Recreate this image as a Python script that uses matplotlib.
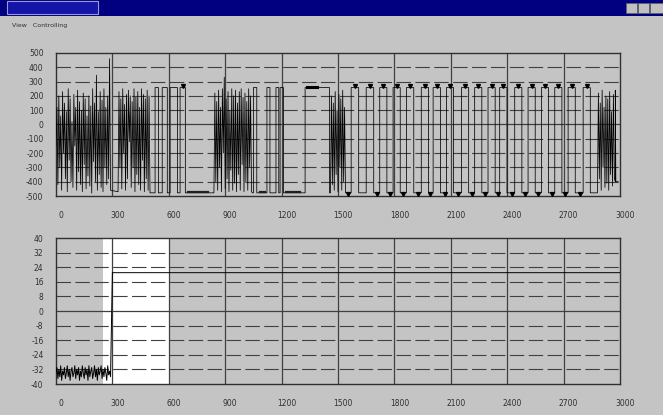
import numpy as np
import matplotlib
matplotlib.use("Agg")
import matplotlib.pyplot as plt
from matplotlib.patches import Rectangle
from matplotlib.transforms import ScaledTranslation

# ---------------- data ----------------
x_ticks = [0, 300, 600, 900, 1200, 1500, 1800, 2100, 2400, 2700, 3000]
top_yticks = [500, 400, 300, 200, 100, 0, -100, -200, -300, -400, -500]
bot_yticks = [40, 32, 24, 16, 8, 0, -8, -16, -24, -32, -40]

HIGH = 258
LOW = -478

# dense bursts (start x, step, values)
burst1_start, burst1_step = 0, 5
burst1_vals = [-150, 120, -420, 200, -300, 60, -460, 230, -200, 150, -380, 90, -470, 250,
               -250, 180, -400, 20, -440, 210, -150, 120, -460, 240, -330, 160, -420, 100,
               -470, 220, -280, 180, -450, 60, -360, 200, -430, 130, -480, 250, -260, 150,
               -400, 345, -460, 90, -350, 230, -440, 170, -470, 250, -300, 120, -420, 200,
               -380, 460, -460]
burst2_start, burst2_step = 330, 5
burst2_vals = [-470, 230, -300, 180, -450, 250, -200, 140, -460, 210, -380, 240, -120, 200,
               -440, 160, -300, 250, -470, 190, -350, 230, -420, 120, -460, 250, -250, 210,
               -470, 180, -380, 240, -460, 200, -478]
burst3_start, burst3_step = 840, 5
burst3_vals = [-478, 220, -400, 160, -460, 240, -300, 120, -470, 250, -200, 330, -450, 180,
               -380, 230, -470, 100, -320, 250, -460, 200, -410, 240, -470, 150, -350, 230,
               -460, 250, -280, 190, -470, 220, -400, 160, -460, 250, -300, 200, -470, -478]
burst4_start, burst4_step = 1460, 5
burst4_vals = [-478, 200, -420, 150, -460, 230, -350, 100, -470, 210, -300, 180, -460, 240,
               -400, 120, -478]
burst5_start, burst5_step = 2880, 5
burst5_vals = [-478, 220, -380, 150, -460, 240, -300, 120, -440, 200, -410, 180, -460, 230,
               -350, 90, -430, 210, -380, -400]

# square-wave edges (alternating rise / fall, starting from LOW)
edges_B = [527, 545, 565, 592, 607, 646, 660, 688]
edges_D = [1050, 1068, 1122, 1138, 1170, 1185, 1192, 1210, 1325, 1455]
edges_F = [1570, 1610, 1650, 1690, 1722, 1760, 1793, 1831, 1864, 1903, 1943, 1982, 2006,
           2045, 2077, 2115, 2157, 2195, 2227, 2265, 2298, 2336, 2360, 2399, 2440, 2478,
           2511, 2549, 2582, 2620, 2653, 2691, 2724, 2762, 2804, 2842]
end_x = [2975, 2978, 2990]
end_y = [240, -400, -400]

top_marker_x = [675, 1590, 1670, 1741, 1812, 1883, 1963, 2025, 2096, 2176, 2246, 2317,
                2379, 2459, 2530, 2601, 2672, 2743, 2823]
bot_marker_x = [1555, 1706, 1777, 1847, 1927, 1989, 2069, 2140, 2211, 2282, 2353, 2424,
                2495, 2566, 2637, 2707, 2787]
bar_low_x = [[700, 810], [1085, 1110], [1225, 1300]]
bar_high_x = [[1335, 1390]]

# bottom signal
bot_noise_start, bot_noise_step = 0, 5
bot_noise_vals = [-34, -31, -37, -32, -36, -30, -38, -33, -35, -31, -37, -34, -30, -36,
                  -32, -38, -33, -31, -36, -34, -30, -37, -32, -35, -31, -38, -33, -36,
                  -30, -34, -37, -31, -35, -32, -38, -30, -36, -33, -31, -37, -34, -30,
                  -36, -32, -38, -31, -35, -33, -30, -37, -32, -36, -31, -34, -38, -30,
                  -35, -33, -36]
bot_level_x = [300, 3000]
bot_level_y = 21
white_span = [250, 600]


def burst(start, step, vals):
    xs = start + step * np.arange(len(vals))
    return list(xs), list(vals)


def steps(edges, x_from, x_to):
    xs, ys = [x_from], [LOW]
    level = LOW
    for e in edges:
        xs.append(e); ys.append(level)
        level = HIGH if level == LOW else LOW
        xs.append(e); ys.append(level)
    xs.append(x_to); ys.append(level)
    return xs, ys


sx, sy = [], []
for part in [burst(burst1_start, burst1_step, burst1_vals),
             burst(burst2_start, burst2_step, burst2_vals),
             steps(edges_B, 500, 840),
             burst(burst3_start, burst3_step, burst3_vals),
             steps(edges_D, 1045, 1460),
             burst(burst4_start, burst4_step, burst4_vals),
             steps(edges_F, 1540, 2880),
             burst(burst5_start, burst5_step, burst5_vals),
             (end_x, end_y)]:
    sx += list(part[0]); sy += list(part[1])

# ---------------- figure ----------------
W, H = 663, 415
fig = plt.figure(figsize=(W / 100, H / 100), dpi=100)
bg = '#c4c4c4'
fig.patch.set_facecolor(bg)


def px_rect(x0, y0, w, h, **kw):
    fig.patches.append(Rectangle((x0 / W, 1 - (y0 + h) / H), w / W, h / H,
                                 transform=fig.transFigure, **kw))


# window chrome
px_rect(0, 0, W, 16, facecolor='#000080', edgecolor='none')
px_rect(7, 1, 91, 13, facecolor='#1414a8', edgecolor='#9a9ad0', linewidth=0.8)
px_rect(626, 3, 11, 10, facecolor='#c0c0c0', edgecolor='#606060', linewidth=0.5)
px_rect(638, 3, 11, 10, facecolor='#c0c0c0', edgecolor='#606060', linewidth=0.5)
px_rect(650, 3, 13, 10, facecolor='#c0c0c0', edgecolor='#606060', linewidth=0.5)
fig.text(12 / W, 1 - 25 / H, 'View   Controlling', fontsize=4.5, color='#303030',
         va='center', ha='left')

grid_c = '#404040'


def style_axes(ax, yticks, ylim):
    ax.set_facecolor(bg)
    ax.set_xlim(0, 3000)
    ax.set_ylim(*ylim)
    ax.set_xticks(x_ticks)
    ax.set_yticks(yticks)
    ax.set_xticklabels([str(v) for v in x_ticks])
    ax.set_yticklabels([str(v) for v in yticks])
    ax.tick_params(length=0, labelsize=5.5, labelcolor='#303030', pad=9)
    ax.tick_params(axis='x', pad=11)
    for lab in ax.get_xticklabels():
        lab.set_transform(lab.get_transform() + ScaledTranslation(5 / 100, 0, fig.dpi_scale_trans))
    for v in x_ticks[1:-1]:
        ax.axvline(v, color=grid_c, lw=0.9, zorder=1)
    for v in yticks[1:-1]:
        if v == 0:
            ax.axhline(v, color=grid_c, lw=0.9, zorder=1)
        else:
            ax.axhline(v, color=grid_c, lw=0.8, dashes=(13, 4), zorder=1)
    for s in ax.spines.values():
        s.set_color('#303030')
        s.set_linewidth(1.0)


# top axes
ax1 = fig.add_axes([56 / W, 1 - 196 / H, 564 / W, 143 / H])
style_axes(ax1, top_yticks, (-500, 500))
ax1.plot(sx, sy, color='black', lw=0.55, zorder=3)
ax1.plot(top_marker_x, [HIGH + 8] * len(top_marker_x), linestyle='none', marker='v',
         ms=2.8, color='black', zorder=4)
ax1.plot(bot_marker_x, [LOW - 6] * len(bot_marker_x), linestyle='none', marker='v',
         ms=2.8, color='black', zorder=4)
for seg in bar_low_x:
    ax1.plot(seg, [LOW + 8, LOW + 8], color='#202020', lw=1.6, zorder=4)
for seg in bar_high_x:
    ax1.plot(seg, [HIGH + 6, HIGH + 6], color='black', lw=2.2, zorder=4)

# bottom axes
ax2 = fig.add_axes([56 / W, 1 - 384 / H, 564 / W, 146 / H])
style_axes(ax2, bot_yticks, (-40, 40))
ax2.axvspan(white_span[0], white_span[1], color='white', zorder=0.5, lw=0)
bx, by = burst(bot_noise_start, bot_noise_step, bot_noise_vals)
bx = bx + [bot_level_x[0], bot_level_x[1]]
by = by + [bot_level_y, bot_level_y]
ax2.plot(bx, by, color='black', lw=0.7, zorder=3)

fig.savefig('out.png', dpi=100, facecolor=bg)
